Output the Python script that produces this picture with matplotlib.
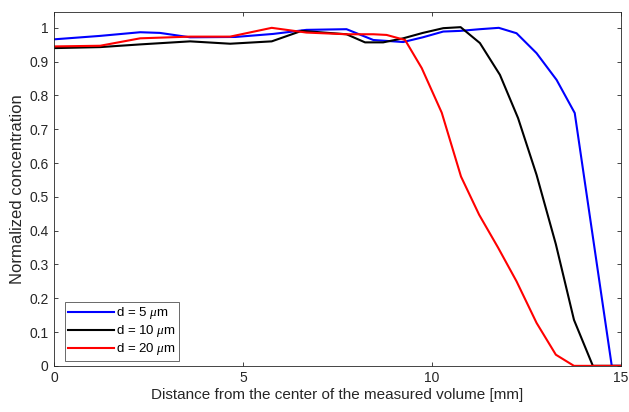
import numpy as np
import matplotlib
matplotlib.use("Agg")
import matplotlib.pyplot as plt

plt.rcParams['font.family'] = ['Liberation Sans', 'DejaVu Sans']
plt.rcParams['mathtext.fontset'] = 'custom'
plt.rcParams['mathtext.it'] = 'Liberation Serif:italic'

# distance from the centre [mm] and normalized concentration
x_5 = [0, 1.2, 2.28, 2.8, 3.6, 4.8, 5.8, 6.68, 7.74, 8.45, 9.24, 9.76, 10.3, 10.75,
       11.27, 11.77, 12.24, 12.77, 13.3, 13.78, 14.76, 15]
c_5 = [0.966, 0.976, 0.987, 0.985, 0.972, 0.973, 0.982, 0.994, 0.996, 0.964, 0.958,
       0.972, 0.989, 0.991, 0.996, 1.0, 0.984, 0.925, 0.846, 0.748, 0.0, 0.0]

x_10 = [0, 1.22, 2.28, 3.6, 4.66, 5.76, 6.55, 7.74, 8.23, 8.71, 9.24, 9.76, 10.3,
        10.76, 11.27, 11.8, 12.28, 12.77, 13.28, 13.76, 14.26, 15]
c_10 = [0.94, 0.943, 0.951, 0.96, 0.953, 0.96, 0.991, 0.981, 0.957, 0.957, 0.969,
        0.985, 0.999, 1.002, 0.955, 0.861, 0.733, 0.565, 0.36, 0.136, 0.0, 0.0]

x_20 = [0, 1.22, 2.28, 3.6, 4.66, 5.76, 6.68, 7.74, 8.45, 8.8, 9.29, 9.73, 10.26,
        10.77, 11.25, 11.75, 12.24, 12.77, 13.28, 13.76, 15]
c_20 = [0.945, 0.947, 0.969, 0.974, 0.974, 1.0, 0.986, 0.981, 0.981, 0.979, 0.964,
        0.881, 0.749, 0.56, 0.447, 0.35, 0.25, 0.127, 0.033, 0.0, 0.0]

labels = [r'd = 5 $\mu$m', r'd = 10 $\mu$m', r'd = 20 $\mu$m']
colors = ['#0000ff', '#000000', '#ff0000']

fig = plt.figure(figsize=(6.29, 4.12), dpi=100)
ax = fig.add_axes([0.086, 0.112, 0.901, 0.859])

for xs, cs, lab, col in zip([x_5, x_10, x_20], [c_5, c_10, c_20], labels, colors):
    ax.plot(xs, cs, color=col, lw=1.5, label=lab)

ax.set_xlim(0, 15)
ax.set_ylim(0, 1.047)
ax.set_xticks([0, 5, 10, 15])
ax.set_yticks(np.arange(0, 1.01, 0.1))
ax.set_yticklabels(['0', '0.1', '0.2', '0.3', '0.4', '0.5', '0.6', '0.7', '0.8', '0.9', '1'])
ax.tick_params(direction='in', top=True, right=True, length=3, width=0.6,
               labelsize=10, colors='#262626', pad=4)
for sp in ax.spines.values():
    sp.set_color('#262626')
    sp.set_linewidth(0.6)

ax.set_xlabel('Distance from the center of the measured volume [mm]', fontsize=11,
              color='#262626', labelpad=2)
ax.set_ylabel('Normalized concentration', fontsize=12, color='#262626', labelpad=3)

leg = ax.legend(loc='lower left', bbox_to_anchor=(0.019, 0.015), fontsize=9.5,
                frameon=True, fancybox=False, edgecolor='#262626', borderpad=0.25,
                labelspacing=0.15, handlelength=3.5, handletextpad=0.15, borderaxespad=0)
leg.get_frame().set_linewidth(0.6)

fig.savefig('out.png', dpi=100)
